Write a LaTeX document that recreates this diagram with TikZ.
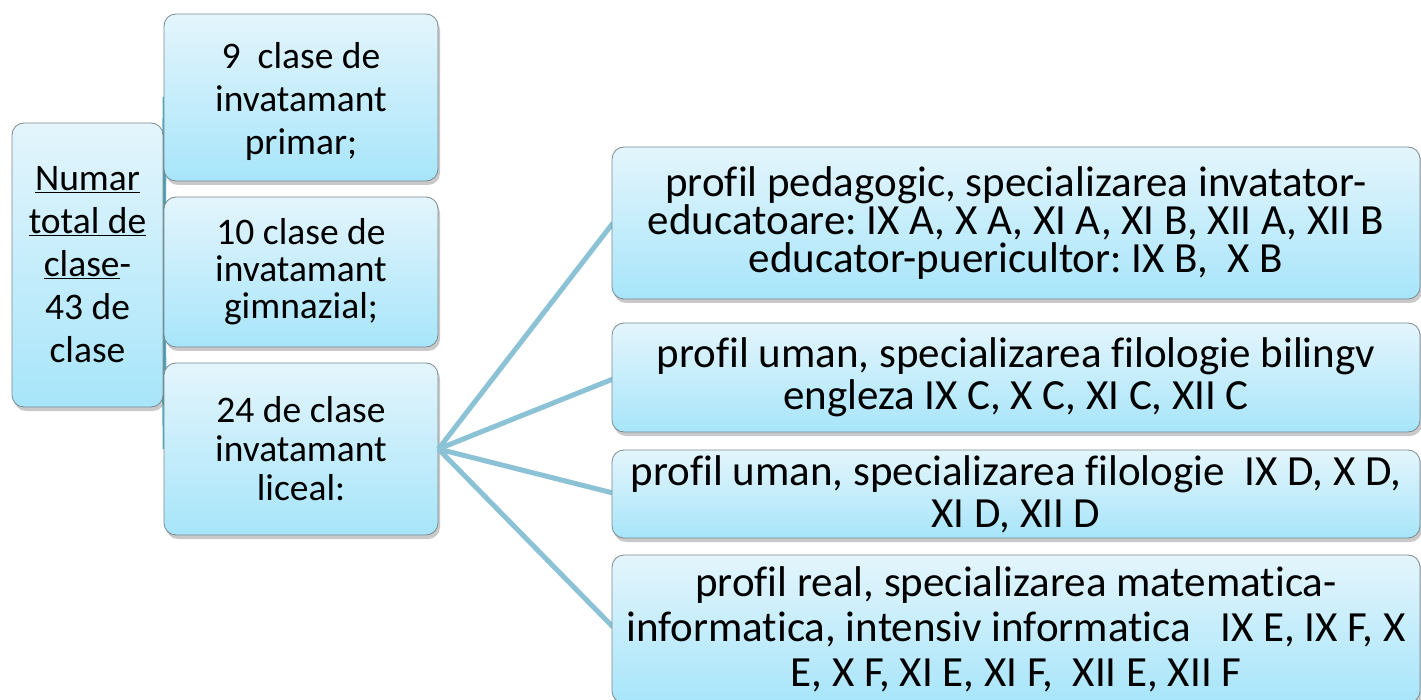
\documentclass[tikz,border=0pt]{standalone}
\usepackage{fontspec}
\setmainfont{Carlito}[Ligatures={NoCommon}]
\usetikzlibrary{shadows}
\frenchspacing
\definecolor{boxtop}{HTML}{E4F5FC}
\definecolor{boxbot}{HTML}{A7E5FA}
\definecolor{boxline}{HTML}{7A8A8F}
\definecolor{leftcon}{HTML}{4FAFC8}
\definecolor{rightcon}{HTML}{8BC2D5}
\tikzset{
  cbox/.style={rectangle, rounded corners=12pt, draw=boxline, line width=0.8pt,
    top color=boxtop, bottom color=boxbot, align=center, inner sep=0pt,
    drop shadow={shadow xshift=2pt, shadow yshift=-4pt, opacity=0.35, fill=black!60}},
  lcon/.style={draw=leftcon, line width=4.5pt},
  rcon/.style={draw=rightcon, line width=5pt},
}
\newcommand{\fsz}[2]{\frenchspacing\fontsize{#1}{#2}\selectfont}
\begin{document}
\begin{tikzpicture}[x=1pt,y=-1pt]
\useasboundingbox (0,0) rectangle (1421,700);
\fill[white] (0,0) rectangle (1421,700);
% left connectors (behind)
\coordinate (lc) at (163,265);
\coordinate (m1w) at (165,97);
\coordinate (m2w) at (165,272);
\coordinate (m3w) at (165,449);
\draw[lcon] (lc) -- (m1w);
\draw[lcon] (lc) -- (m2w);
\draw[lcon] (lc) -- (m3w);
% nodes
\node[cbox, minimum width=151pt, minimum height=284pt, font=\fsz{37.5}{43}] (L) at (87.5,265)
  {\underline{Numar}\\\underline{total de}\\\underline{clase}-\\43 de\\clase};
\node[cbox, minimum width=274pt, minimum height=167pt, font=\fsz{37.5}{43}] (M1) at (301,97.5)
  {\raisebox{-4pt}[\height][\depth]{\parbox{250pt}{\centering 9\ \ clase de\\invatamant\\primar;}}};
\node[cbox, minimum width=274pt, minimum height=150pt, font=\fsz{37.5}{37}] (M2) at (301,272)
  {10 clase de\\invatamant\\gimnazial;};
\node[cbox, minimum width=274pt, minimum height=172pt, font=\fsz{37.5}{39}] (M3) at (301,449)
  {24 de clase\\invatamant\\liceal:};
% right connectors (behind right boxes)
\coordinate (r1w) at (613,223);
\coordinate (r2w) at (613,379);
\coordinate (r3w) at (613,493);
\coordinate (r4w) at (613,627);
\draw[rcon] (M3.east) -- (r1w);
\draw[rcon] (M3.east) -- (r2w);
\draw[rcon] (M3.east) -- (r3w);
\draw[rcon] (M3.east) -- (r4w);
\node[cbox, minimum width=808pt, minimum height=152pt, font=\fsz{43}{38}] (R1) at (1016,223)
  {profil pedagogic, specializarea invatator-\\educatoare: IX A, X A, XI A, XI B, XII A, XII B\\educator-puericultor: IX B,\ \ X B};
\node[cbox, minimum width=808pt, minimum height=109pt, font=\fsz{43}{42}] (R2) at (1016,377.5)
  {profil uman, specializarea filologie bilingv\\engleza IX C, X C, XI C, XII C};
\node[cbox, minimum width=808pt, minimum height=88pt, font=\fsz{43}{42}] (R3) at (1016,494)
  {profil uman, specializarea filologie\ \ IX D, X D,\\XI D, XII D};
\node[cbox, minimum width=808pt, minimum height=148pt, font=\fsz{43}{45}] (R4) at (1016,629)
  {profil real, specializarea matematica-\\informatica, intensiv informatica\ \ \ IX E, IX F, X\\E, X F, XI E, XI F,\ \ XII E, XII F};
\end{tikzpicture}
\end{document}
